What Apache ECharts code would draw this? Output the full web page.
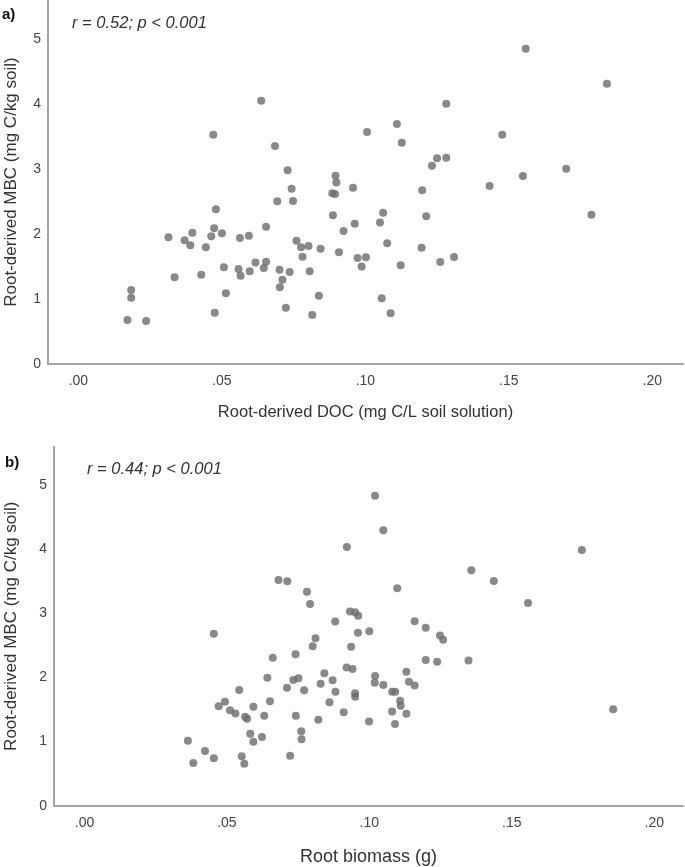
<!DOCTYPE html>
<html>
<head>
<meta charset="utf-8">
<script src="https://cdn.jsdelivr.net/npm/echarts@6/dist/echarts.min.js"></script>
<style>
html,body{margin:0;padding:0;background:#fff;}
#chart{width:685px;height:867px;}
</style>
</head>
<body>
<div id="chart"></div>
<script>
// Panel a: Root-derived DOC (mg C/L soil solution) vs Root-derived MBC (mg C/kg soil)
const docA = [
  0.0171,0.0184,0.0184,0.0236,0.0314,0.0335,0.0370,0.0390,0.0397,0.0428,
  0.0444,0.0463,0.0473,0.0479,0.0470,0.0500,0.0507,0.0514,0.0475,0.0563,
  0.0594,0.0558,0.0565,0.0597,0.0617,0.0646,0.0654,0.0654,0.0637,0.0685,
  0.0693,0.0729,0.0743,0.0748,0.0701,0.0711,0.0702,0.0723,0.0736,0.0760,
  0.0776,0.0802,0.0781,0.0806,0.0838,0.0815,0.0844,0.0887,0.0885,0.0894,
  0.0896,0.0899,0.0908,0.0924,0.0957,0.0963,0.0973,0.1002,0.0987,0.1006,
  0.1051,0.1062,0.1076,0.1057,0.1088,0.1110,0.1127,0.1123,0.1196,0.1198,
  0.1212,0.1232,0.1250,0.1282,0.1282,0.1261,0.1309,0.1433,0.1477,0.1549,
  0.1559,0.1700,0.1788,0.1842
];
const mbcA = [
  0.677,1.138,1.020,0.662,1.949,1.334,1.903,1.826,2.020,1.374,
  1.795,1.965,2.088,2.380,3.528,2.011,1.488,1.088,0.790,1.939,
  1.974,1.461,1.358,1.426,1.561,1.477,1.574,2.112,4.051,3.354,
  2.503,2.980,2.697,2.508,1.450,1.297,1.180,0.866,1.416,1.897,
  1.795,1.815,1.651,1.426,1.051,0.754,1.774,2.288,2.627,2.616,
  2.897,2.792,1.718,2.046,2.713,2.159,1.631,1.642,1.500,3.569,
  2.177,2.327,1.857,1.011,0.780,3.693,3.404,1.519,1.787,2.672,
  2.274,3.051,3.165,3.174,4.005,1.569,1.646,2.739,3.528,2.892,
  4.851,3.005,2.297,4.312
];
// Panel b: Root biomass (g) vs Root-derived MBC (mg C/kg soil)
const biomassB = [
  0.0363,0.0382,0.0423,0.0454,0.0454,0.0471,0.0493,0.0511,0.0530,0.0543,
  0.0552,0.0561,0.0564,0.0571,0.0582,0.0593,0.0593,0.0623,0.0631,0.0642,
  0.0651,0.0661,0.0681,0.0712,0.0722,0.0711,0.0733,0.0751,0.0741,0.0742,
  0.0761,0.0762,0.0771,0.0781,0.0792,0.0811,0.0801,0.0821,0.0829,0.0842,
  0.0860,0.0871,0.0881,0.0880,0.0910,0.0920,0.0941,0.0921,0.0932,0.0950,
  0.0961,0.0936,0.0950,0.0950,0.0960,0.1000,0.0999,0.1020,0.1020,0.1019,
  0.1049,0.1049,0.1080,0.1091,0.1080,0.1090,0.1098,0.1108,0.1110,0.1130,
  0.1139,0.1159,0.1130,0.1159,0.1198,0.1198,0.1238,0.1248,0.1259,0.1348,
  0.1358,0.1437,0.1557,0.1746,0.1856
];
const mbcB = [
  1.014,0.666,0.853,0.739,2.683,1.551,1.622,1.488,1.438,1.805,
  0.771,0.654,1.388,1.357,1.123,0.998,1.544,1.072,1.404,1.997,
  1.630,2.309,3.521,3.501,0.778,1.841,1.961,1.988,2.363,1.402,
  1.161,1.037,1.800,3.337,3.147,2.612,2.488,1.340,1.902,2.066,
  1.615,1.958,1.778,2.874,1.459,2.154,2.134,4.036,3.030,3.017,
  2.964,2.480,1.754,1.700,2.699,2.721,1.314,4.836,2.023,1.917,
  4.296,1.883,1.777,1.777,1.470,1.275,3.393,1.637,1.559,2.089,
  1.934,1.875,1.435,2.877,2.777,2.273,2.245,2.655,2.588,2.265,
  3.672,3.505,3.162,3.989,1.504
];
const xTicks = [0, 0.05, 0.10, 0.15, 0.20];
const yTicks = [0, 1, 2, 3, 4, 5];
const xTitleA = 'Root-derived DOC (mg C/L soil solution)';
const xTitleB = 'Root biomass (g)';
const yTitle = 'Root-derived MBC (mg C/kg soil)';
const statA = 'r = 0.52; p < 0.001';
const statB = 'r = 0.44; p < 0.001';

const FONT = "'Liberation Sans', Arial, sans-serif";
const AXIS_COLOR = '#a3a3a3';
const DOT = '#6b6b6b';

function pairs(xs, ys){ return xs.map((x,i)=>[x, ys[i]]); }
function fmtX(v){ return v.toFixed(2).replace(/^0/, ''); }

function xAxisCfg(idx, name, min, max, gap, fs){
  return {
    type:'value', gridIndex: idx, min: min, max: max,
    name: name, nameLocation:'middle', nameGap: gap,
    nameTextStyle:{fontFamily:FONT, fontSize:fs, color:'#333'},
    axisLine:{show:true, onZero:false, lineStyle:{color:AXIS_COLOR, width:2}},
    axisTick:{show:false},
    splitLine:{show:false},
    axisLabel:{customValues:xTicks, formatter:fmtX, fontFamily:FONT, fontSize:14, color:'#444', margin:10}
  };
}
function yAxisCfg(idx, gap){
  return {
    type:'value', gridIndex: idx, min:0, max:5.6,
    name: yTitle, nameLocation:'middle', nameGap: gap,
    nameTextStyle:{fontFamily:FONT, fontSize:17, color:'#333'},
    axisLine:{show:true, onZero:false, lineStyle:{color:AXIS_COLOR, width:2}},
    axisTick:{show:false},
    splitLine:{show:false},
    axisLabel:{customValues:yTicks, fontFamily:FONT, fontSize:14, color:'#444', margin:7, padding:[6,0,0,0]}
  };
}

const chart = echarts.init(document.getElementById('chart'), null, {renderer:'canvas'});
chart.setOption({
  animation:false,
  backgroundColor:'#fff',
  grid:[
    {left:48, right:2, top:0, bottom:503, outerBoundsMode:'none', containLabel:false},
    {left:54, right:2, top:446.7, bottom:61.3, outerBoundsMode:'none', containLabel:false}
  ],
  xAxis:[
    xAxisCfg(0, xTitleA, -0.0106, 0.2107, 40, 16.5),
    xAxisCfg(1, xTitleB, -0.0107, 0.2101, 42, 18)
  ],
  yAxis:[
    yAxisCfg(0, 28),
    yAxisCfg(1, 34)
  ],
  series:[
    {type:'scatter', xAxisIndex:0, yAxisIndex:0, data:pairs(docA, mbcA),
     symbolSize:8, itemStyle:{color:DOT}},
    {type:'scatter', xAxisIndex:1, yAxisIndex:1, data:pairs(biomassB, mbcB),
     symbolSize:8, itemStyle:{color:DOT}}
  ],
  graphic:[
    {type:'text', left:2, top:7, style:{text:'a)', font:"bold 15px " + FONT, fill:'#111'}},
    {type:'text', left:5, top:455, style:{text:'b)', font:"bold 15px " + FONT, fill:'#111'}},
    {type:'text', left:72, top:15, style:{text:statA, font:"italic 16.5px " + FONT, fill:'#333'}},
    {type:'text', left:87, top:461, style:{text:statB, font:"italic 16.5px " + FONT, fill:'#333'}}
  ]
});
</script>
</body>
</html>
